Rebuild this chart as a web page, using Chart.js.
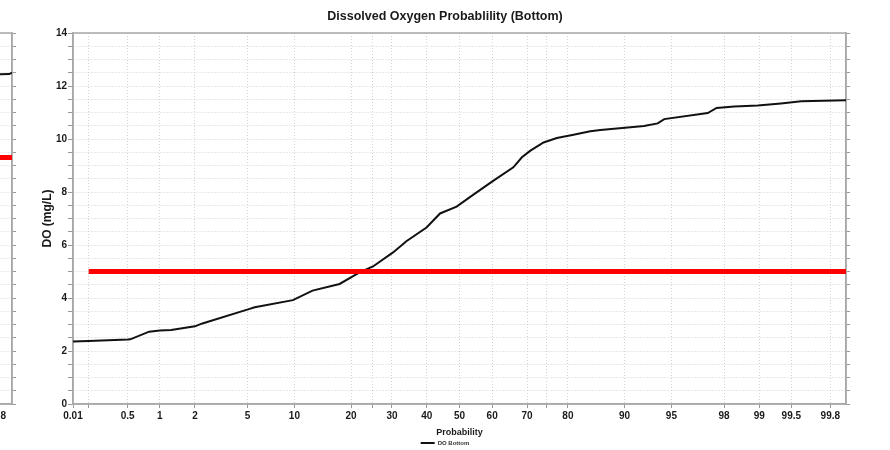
<!DOCTYPE html>
<html>
<head>
<meta charset="utf-8">
<script src="https://cdn.jsdelivr.net/npm/chart.js@4.4.1/dist/chart.umd.min.js"></script>
<style>
  html, body { margin: 0; padding: 0; background: #fff; overflow: hidden; }
  #wrap { position: relative; width: 890px; height: 450px; overflow: hidden; }
  canvas { position: absolute; top: 0; }
  #prev { left: -834px; }
  #main { left: 0; }
</style>
</head>
<body>
<div id="wrap">
  <canvas id="prev" width="890" height="450"></canvas>
  <canvas id="main" width="890" height="450"></canvas>
</div>
<script>
// Probability axis: tick positions (in %) and the labels printed under them
const tickProbs  = [0.135, 0.2, 0.5, 1, 2, 5, 10, 20, 25, 30, 40, 50, 60, 70, 75, 80, 90, 95, 98, 99, 99.5, 99.8];
const tickLabels = ['0.01', '', '0.5', '1', '2', '5', '10', '20', '', '30', '40', '50', '60', '70', '', '80', '90', '95', '98', '99', '99.5', '99.8'];
const axisMinProb = 0.135;
const axisMaxProb = 99.865;

// DO Bottom curve (probability %, mg/L)
const bottomProb = [0.135, 0.2, 0.5, 0.53, 0.8, 1, 1.26, 2, 2.3, 5.1, 5.6, 9.8, 12.7, 17.6, 21.9, 25.1, 30.3, 34.0, 39.9, 44.0, 49.1, 54.3, 60.4, 66.2, 68.6, 70.9, 74.3, 77.5, 81.2, 84.5, 86.3, 92.4, 93.8, 94.4, 97.3, 97.7, 98.35, 98.97, 99.37, 99.6, 99.865];
const bottomDO   = [2.36, 2.38, 2.43, 2.44, 2.73, 2.77, 2.79, 2.93, 3.04, 3.58, 3.65, 3.92, 4.28, 4.53, 4.97, 5.19, 5.72, 6.14, 6.66, 7.19, 7.45, 7.9, 8.43, 8.93, 9.31, 9.56, 9.87, 10.04, 10.16, 10.29, 10.34, 10.49, 10.59, 10.75, 10.98, 11.17, 11.23, 11.26, 11.34, 11.42, 11.46];

// DO standard line
const limitProb = [0.2, 99.865];
const limitDO   = [5, 5];

// tail of the neighbouring chart that is cut off at the left edge
const prevProb    = [99.0, 99.5, 99.82, 99.855, 99.865];
const prevDO      = [12.32, 12.4, 12.44, 12.45, 12.5];
const prevLimitDO = [9.3, 9.3];

const FONT = "'Liberation Sans', Arial, sans-serif";

// inverse standard normal CDF (Acklam) — maps probability to the plot's x position
function probit(p) {
  const a = [-3.969683028665376e+01, 2.209460984245205e+02, -2.759285104469687e+02, 1.383577518672690e+02, -3.066479806614716e+01, 2.506628277459239e+00];
  const b = [-5.447609879822406e+01, 1.615858368580409e+02, -1.556989798598866e+02, 6.680131188771972e+01, -1.328068155288572e+01];
  const c = [-7.784894002430293e-03, -3.223964580411365e-01, -2.400758277161838e+00, -2.549732539343734e+00, 4.374664141464968e+00, 2.938163982698783e+00];
  const d = [7.784695709041462e-03, 3.224671290700398e-01, 2.445134137142996e+00, 3.754408661907416e+00];
  const pl = 0.02425;
  let q, r;
  if (p < pl) {
    q = Math.sqrt(-2 * Math.log(p));
    return (((((c[0]*q+c[1])*q+c[2])*q+c[3])*q+c[4])*q+c[5]) / ((((d[0]*q+d[1])*q+d[2])*q+d[3])*q+1);
  }
  if (p > 1 - pl) {
    q = Math.sqrt(-2 * Math.log(1 - p));
    return -(((((c[0]*q+c[1])*q+c[2])*q+c[3])*q+c[4])*q+c[5]) / ((((d[0]*q+d[1])*q+d[2])*q+d[3])*q+1);
  }
  q = p - 0.5; r = q * q;
  return (((((a[0]*r+a[1])*r+a[2])*r+a[3])*r+a[4])*r+a[5])*q / (((((b[0]*r+b[1])*r+b[2])*r+b[3])*r+b[4])*r+1);
}

function toPoints(probs, values) {
  return probs.map((p, i) => ({ x: probit(p / 100), y: values[i] }));
}

// grey frame round the plot area
const framePlugin = {
  id: 'frame',
  beforeDatasetsDraw(chart) {
    const { ctx, chartArea: a } = chart;
    ctx.save();
    ctx.strokeStyle = '#a8a8a8';
    ctx.lineWidth = 1.5;
    ctx.strokeRect(a.left, a.top, a.right - a.left, a.bottom - a.top);
    ctx.restore();
  }
};

function buildConfig(lineProbs, lineValues, limitValues) {
  const gridColor = '#d2d2d2';
  return {
    type: 'line',
    data: {
      datasets: [
        {
          label: 'DO Bottom',
          data: toPoints(lineProbs, lineValues),
          borderColor: '#111',
          borderWidth: 2,
          pointRadius: 0,
          tension: 0,
          fill: false,
          order: 1
        },
        {
          label: 'DO Standard',
          data: toPoints(limitProb, limitValues),
          borderColor: '#ff0000',
          borderWidth: 5,
          pointRadius: 0,
          fill: false,
          order: 0
        }
      ]
    },
    options: {
      responsive: false,
      animation: false,
      layout: { padding: { left: 40, right: 40, top: 0, bottom: -6 } },
      plugins: {
        title: {
          display: true,
          text: 'Dissolved Oxygen Probablility (Bottom)',
          color: '#1a1a1a',
          font: { family: FONT, size: 12.5, weight: 'bold' },
          padding: { top: 9, bottom: 9 }
        },
        legend: {
          position: 'bottom',
          labels: {
            filter: item => item.text === 'DO Bottom',
            usePointStyle: true,
            pointStyle: 'line',
            pointStyleWidth: 14,
            boxHeight: 6,
            padding: 2,
            color: '#333',
            font: { family: FONT, size: 6, weight: 'bold' }
          }
        },
        tooltip: { enabled: false }
      },
      scales: {
        x: {
          type: 'linear',
          min: probit(axisMinProb / 100),
          max: probit(axisMaxProb / 100),
          afterBuildTicks: s => { s.ticks = tickProbs.map(p => ({ value: probit(p / 100) })); },
          afterFit: s => { s.height = 34; },
          ticks: {
            autoSkip: false,
            maxRotation: 0,
            padding: 2,
            color: '#1a1a1a',
            font: { family: FONT, size: 10, weight: 'bold' },
            callback: (v, i) => tickLabels[i]
          },
          grid: { color: gridColor, tickColor: '#999', tickLength: 4, lineWidth: 1 },
          border: { display: true, color: '#a8a8a8', width: 1.5, dash: [1, 2] },
          title: {
            display: true,
            text: 'Probability',
            color: '#1a1a1a',
            font: { family: FONT, size: 9, weight: 'bold' },
            padding: { top: 3, bottom: 0 }
          }
        },
        y: {
          min: 0,
          max: 14,
          afterFit: s => { s.width = 33; },
          ticks: {
            stepSize: 0.5,
            autoSkip: false,
            padding: 1,
            color: '#1a1a1a',
            font: { family: FONT, size: 10, weight: 'bold' },
            callback: v => (v % 2 === 0 ? v : '')
          },
          grid: { color: gridColor, tickColor: '#999', tickLength: 5, lineWidth: 1 },
          border: { display: true, color: '#a8a8a8', width: 1.5, dash: [1, 2] },
          title: {
            display: true,
            text: 'DO (mg/L)',
            color: '#1a1a1a',
            font: { family: FONT, size: 12, weight: 'bold' },
            padding: { top: 0, bottom: 0 }
          }
        },
        y2: {
          position: 'right',
          min: 0,
          max: 14,
          ticks: { stepSize: 0.5, display: false },
          grid: { drawOnChartArea: false, tickColor: '#999', tickLength: 4 },
          border: { display: true, color: '#a8a8a8', width: 1.5 }
        }
      }
    },
    plugins: [framePlugin]
  };
}

new Chart(document.getElementById('prev'), buildConfig(prevProb, prevDO, prevLimitDO));
new Chart(document.getElementById('main'), buildConfig(bottomProb, bottomDO, limitDO));
</script>
</body>
</html>
